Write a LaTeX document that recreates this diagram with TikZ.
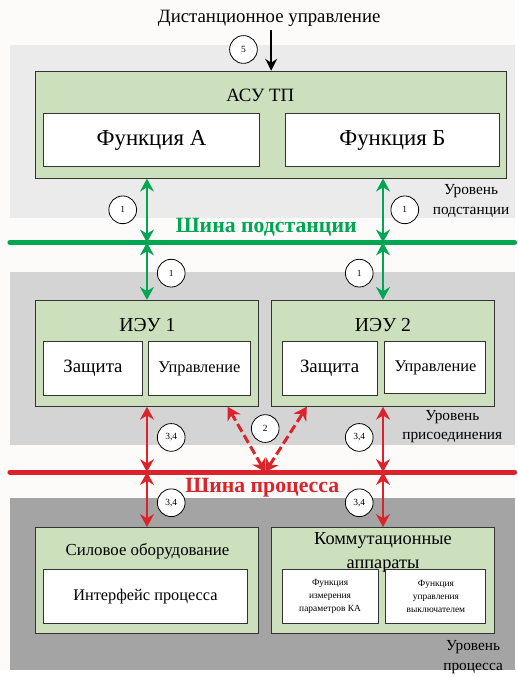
\documentclass[tikz,border=0pt]{standalone}
\usepackage{fontspec}
\setmainfont{Liberation Serif}
\usetikzlibrary{positioning, arrows.meta, calc}
\definecolor{boxgreen}{RGB}{205,224,190}
\definecolor{busgreen}{RGB}{0,166,81}
\definecolor{busred}{RGB}{218,35,42}
\definecolor{bandlight}{RGB}{235,235,235}
\definecolor{bandmid}{RGB}{212,212,212}
\definecolor{banddark}{RGB}{164,164,164}
\definecolor{pagebg}{RGB}{253,251,249}

\begin{document}
\begin{tikzpicture}[x=1pt, y=-1pt,
block/.style={rectangle, draw=black!80, line width=1pt, fill=boxgreen,
minimum width=#1, minimum height=107pt, inner sep=0pt},
func/.style={rectangle, draw=black!80, line width=1pt, fill=white,
align=center, inner sep=0pt, minimum height=55pt},
num/.style={circle, draw, fill=white, line width=0.8pt, minimum size=28pt,
inner sep=0pt, font=\fontsize{9.5}{10}\selectfont},
title/.style={font=\fontsize{19}{24}\selectfont, align=center},
level/.style={font=\fontsize{15.5}{20}\selectfont, align=center},
garrow/.style={{Stealth[length=13pt,width=14pt]}-{Stealth[length=13pt,width=14pt]},
line width=2.8pt, draw=busgreen},
rarrow/.style={{Stealth[length=13pt,width=14pt]}-{Stealth[length=13pt,width=14pt]},
line width=2.8pt, draw=busred},
darrow/.style={{Stealth[length=13pt,width=15pt]}-{Stealth[length=13pt,width=15pt]},
line width=3pt, draw=busred, dash pattern=on 9pt off 4pt},
bus/.style={line width=5pt, line cap=round, draw=#1}
]

% Background and levels
\fill[pagebg] (0,0) rectangle (520,677);
\fill[bandlight] (10,45) rectangle (520,220);
\fill[bandmid] (10,275) rectangle (520,450);
\fill[banddark] (10,503) rectangle (520,677);

% Buses
\coordinate (gbusW) at (10,245);
\coordinate (gbusE) at (520,245);
\coordinate (rbusW) at (10,477);
\coordinate (rbusE) at (520,477);
\draw[bus=busgreen] (gbusW) -- (gbusE);
\draw[bus=busred] (rbusW) -- (rbusE);
\node[font=\fontsize{22}{24}\selectfont\bfseries, text=busgreen] (gbusT) at (269,230) {Шина подстанции};
\node[font=\fontsize{22}{24}\selectfont\bfseries, text=busred] (rbusT) at (265,493) {Шина процесса};

% Substation level
\node[title] (remote) at (272,19) {Дистанционное управление};
\node[block=476pt, minimum height=108pt] (asu) at (274,126) {};
\node[title, font=\fontsize{19}{21}\selectfont] (asuT) at (263,96) {АСУ ТП};
\node[func, minimum width=218pt, minimum height=53pt, font=\fontsize{23}{25}\selectfont] (fa) at (153,141.5) {Функция А};
\node[func, minimum width=217pt, minimum height=53pt, font=\fontsize{23}{25}\selectfont] (fb) at (396.5,141.5) {Функция Б};
\node[level] (lvl1) at (476,203) {Уровень\\подстанции};

% Bay level
\node[block=225pt] (ieu1) at (148.5,357) {};
\node[title, font=\fontsize{20}{22}\selectfont] (ieu1T) at (149,328) {ИЭУ 1};
\node[func, minimum width=100pt, font=\fontsize{19}{21}\selectfont] (prot1) at (94,372.5) {Защита};
\node[func, minimum width=103pt, font=\fontsize{16.5}{18}\selectfont] (ctrl1) at (201.5,372.5) {Управление};
\node[block=226pt] (ieu2) at (387,357) {};
\node[title, font=\fontsize{20}{22}\selectfont] (ieu2T) at (387,328) {ИЭУ 2};
\node[func, minimum width=96pt, font=\fontsize{19}{21}\selectfont] (prot2) at (333,372.5) {Защита};
\node[func, minimum width=102pt, minimum height=53pt, font=\fontsize{16.5}{18}\selectfont] (ctrl2) at (440,371.5) {Управление};
\node[level] (lvl2) at (457,431) {Уровень\\присоединения};

% Process level
\node[block=225pt] (power) at (148.5,586.5) {};
\node[title, font=\fontsize{17}{18}\selectfont] (powerT) at (149,557) {Силовое оборудование};
\node[func, minimum width=206pt, font=\fontsize{16.5}{18}\selectfont] (iface) at (147,602.5) {Интерфейс процесса};
\node[block=226pt] (switch) at (387,586.5) {};
\node[title, font=\fontsize{18.5}{24}\selectfont] (switchT) at (387,558) {Коммутационные\\аппараты};
\node[func, minimum width=97pt, font=\fontsize{9.5}{13}\selectfont] (meas) at (333.5,602.5) {Функция\\измерения\\параметров КА};
\node[func, minimum width=101pt, font=\fontsize{9.5}{13}\selectfont] (brk) at (440.5,602.5) {Функция\\управления\\выключателем};
\node[level] (lvl3) at (478,664) {Уровень\\процесса};

% Arrows
\draw[-{Stealth[length=12pt,width=12pt]}, line width=2.4pt] (remote.south -| asu.north) -- (asu.north);
\draw[garrow] (asu.south -| ieu1) -- (gbusW -| ieu1);
\draw[garrow] (asu.south -| ieu2) -- (gbusW -| ieu2);
\draw[garrow] (gbusW -| ieu1) -- (ieu1.north);
\draw[garrow] (gbusW -| ieu2) -- (ieu2.north);
\draw[rarrow] (ieu1.south) -- (rbusW -| ieu1);
\draw[rarrow] (ieu2.south) -- (rbusW -| ieu2);
\draw[rarrow] (rbusW -| power) -- (power.north);
\draw[rarrow] (rbusW -| switch) -- (switch.north);
\coordinate (rbusC) at (268,477);
\coordinate (dashL) at (230,411);
\coordinate (dashR) at (310,411);
\draw[darrow] (rbusC) -- (dashL);
\draw[darrow] (rbusC) -- (dashR);

% Numbers
\node[num] (n5) at (246,50) {5};
\node[num] (n1a) at (124,212) {1};
\node[num] (n1b) at (409,212) {1};
\node[num] (n1c) at (173,276) {1};
\node[num] (n1d) at (363,276) {1};
\node[num] (n2) at (268,433) {2};
\node[num] (n34a) at (173,442) {3,4};
\node[num] (n34b) at (363,442) {3,4};
\node[num] (n34c) at (173,508) {3,4};
\node[num] (n34d) at (363,508) {3,4};

\useasboundingbox (0,0) rectangle (520,677);
\end{tikzpicture}
\end{document}
